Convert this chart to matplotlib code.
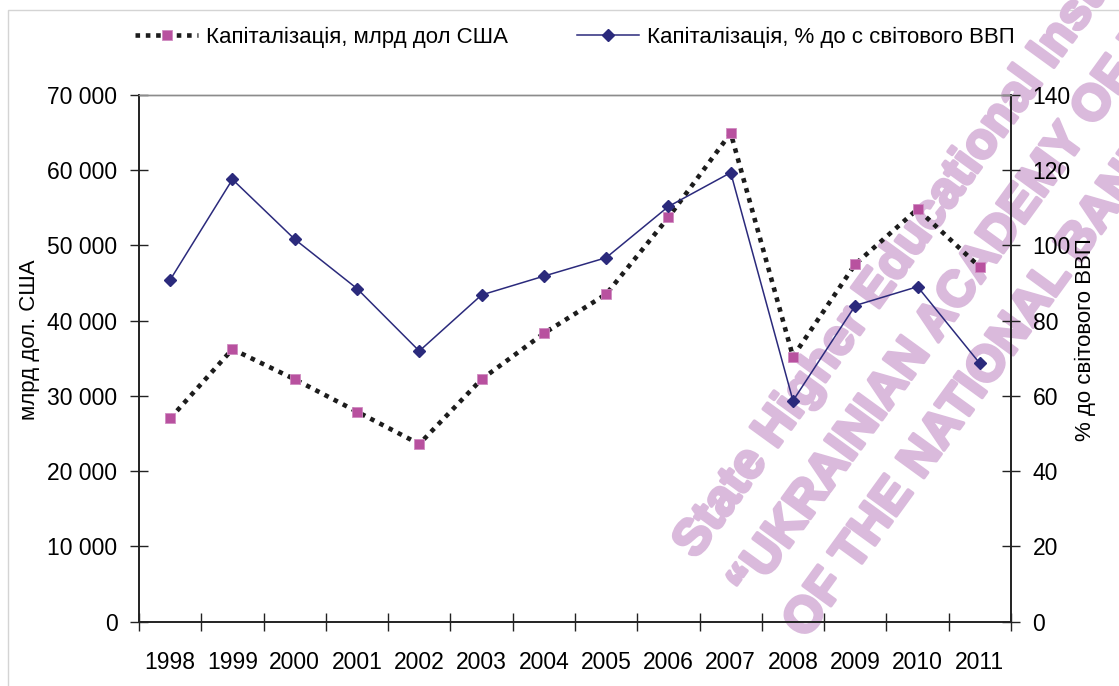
import matplotlib
matplotlib.use("Agg")
import math
import matplotlib.pyplot as plt
import matplotlib.patheffects as pe
from matplotlib.ticker import FuncFormatter, FixedLocator
from matplotlib.lines import Line2D
from matplotlib.patches import Rectangle

plt.rcParams['font.family'] = ['Liberation Sans', 'DejaVu Sans']

years = ['1998', '1999', '2000', '2001', '2002', '2003', '2004',
         '2005', '2006', '2007', '2008', '2009', '2010', '2011']
cap_usd = [27000, 36200, 32200, 27900, 23600, 32200, 38300,
           43500, 53700, 64900, 35200, 47500, 54800, 47100]
cap_gdp = [90.8, 117.5, 101.6, 88.5, 71.9, 86.8, 91.8,
           96.7, 110.3, 119.3, 58.7, 84.0, 89.0, 68.6]

label_usd = 'Капіталізація, млрд дол США'
label_gdp = 'Капіталізація, % до с світового ВВП'
ylabel_left = 'млрд дол. США'
ylabel_right = '% до світового ВВП'
watermark = ['State Higher Educational Instit',
             '\u201cUKRAINIAN ACADEMY OF BAN',
             'OF THE NATIONAL BANK OF']

W, H = 1119, 686
fig = plt.figure(figsize=(W / 100, H / 100), dpi=100)
fig.patch.set_facecolor('white')

# chart-area border
fig.patches.append(Rectangle((8 / W, -0.1), 1.2, 1 - 10 / H + 0.1, transform=fig.transFigure,
                             fill=False, edgecolor='#d4d4d4', lw=1.0, zorder=-5))

# watermark
wm_color = '#dabadc'
ang = 54
nrm = (math.sin(math.radians(ang)), math.cos(math.radians(ang)))
x0, y0 = 696, 560
for i, t in enumerate(watermark):
    px = x0 + i * 68 * nrm[0]
    py = y0 + i * 68 * nrm[1]
    fig.text(px / W, 1 - py / H, t, rotation=ang, rotation_mode='anchor',
             ha='left', va='baseline', fontsize=36, fontweight='bold',
             family=['Liberation Sans', 'DejaVu Sans'], color=wm_color, zorder=-4,
             path_effects=[pe.withStroke(linewidth=2.5, foreground=wm_color)])

left, right = 139 / W, 1011 / W
bottom, top = 1 - 621.7 / H, 1 - 94.7 / H
ax = fig.add_axes([left, bottom, right - left, top - bottom])
ax.set_facecolor('none')
ax2 = ax.twinx()
ax2.set_facecolor('none')

x = list(range(len(years)))
ax.plot(x, cap_usd, color='#1c1c1c', lw=3.3, linestyle=(0, (1, 1.25)),
        dash_capstyle='butt', zorder=3)
ax.plot(x, cap_usd, linestyle='none', marker='s', ms=7.8, color='#b8519f',
        markeredgecolor='#d08cc2', mew=0.6, zorder=4)
ax2.plot(x, cap_gdp, color='#2b2a7c', lw=1.1, marker='D', ms=6.5,
         markerfacecolor='#2b2a7c', markeredgecolor='#2b2a7c', zorder=5)

ax.set_xlim(-0.5, len(years) - 0.5)
ax.set_ylim(0, 70000)
ax2.set_ylim(0, 140)

ax.xaxis.set_major_locator(FixedLocator([i - 0.5 for i in range(len(years) + 1)]))
ax.xaxis.set_minor_locator(FixedLocator(x))
ax.set_xticklabels([], minor=False)
ax.set_xticklabels(years, minor=True)
ax.tick_params(axis='x', which='major', direction='inout', length=13, width=1, color='#222222')
ax.tick_params(axis='x', which='minor', length=0, pad=21, labelsize=16.5)

ax.set_yticks(range(0, 70001, 10000))
ax.yaxis.set_major_formatter(FuncFormatter(lambda v, p: f'{int(v):,}'.replace(',', ' ')))
ax.tick_params(axis='y', direction='inout', length=13, width=1, color='#222222', pad=9, labelsize=16.5)
ax2.set_yticks(range(0, 141, 20))
ax2.tick_params(axis='y', direction='inout', length=13, width=1, color='#222222', pad=9, labelsize=16.5)

for a in (ax, ax2):
    a.spines['top'].set_color('#8c8c8c')
    a.spines['top'].set_linewidth(1.0)
    for s in ('left', 'right', 'bottom'):
        a.spines[s].set_color('#222222')
        a.spines[s].set_linewidth(1.2)

fig.text(30 / W, 1 - 340 / H, ylabel_left, rotation=90, ha='center', va='center', fontsize=16)
fig.text(1085 / W, 1 - 340 / H, ylabel_right, rotation=90, ha='center', va='center', fontsize=16)

h1 = Line2D([], [], color='#1c1c1c', lw=3.3, linestyle=(0, (1, 1.25)), dash_capstyle='butt',
            marker='s', ms=7.8, markerfacecolor='#b8519f', markeredgecolor='#d08cc2', mew=0.6)
h2 = Line2D([], [], color='#2b2a7c', lw=1.1, marker='D', ms=6.5,
            markerfacecolor='#2b2a7c', markeredgecolor='#2b2a7c')
fig.legend([h1, h2], [label_usd, label_gdp], ncol=2, loc='center',
           bbox_to_anchor=(575 / W, 1 - 37 / H), frameon=False, fontsize=16,
           handlelength=2.8, handletextpad=0.36, columnspacing=3.1, numpoints=1)

fig.savefig('out.png', dpi=100, facecolor='white')
